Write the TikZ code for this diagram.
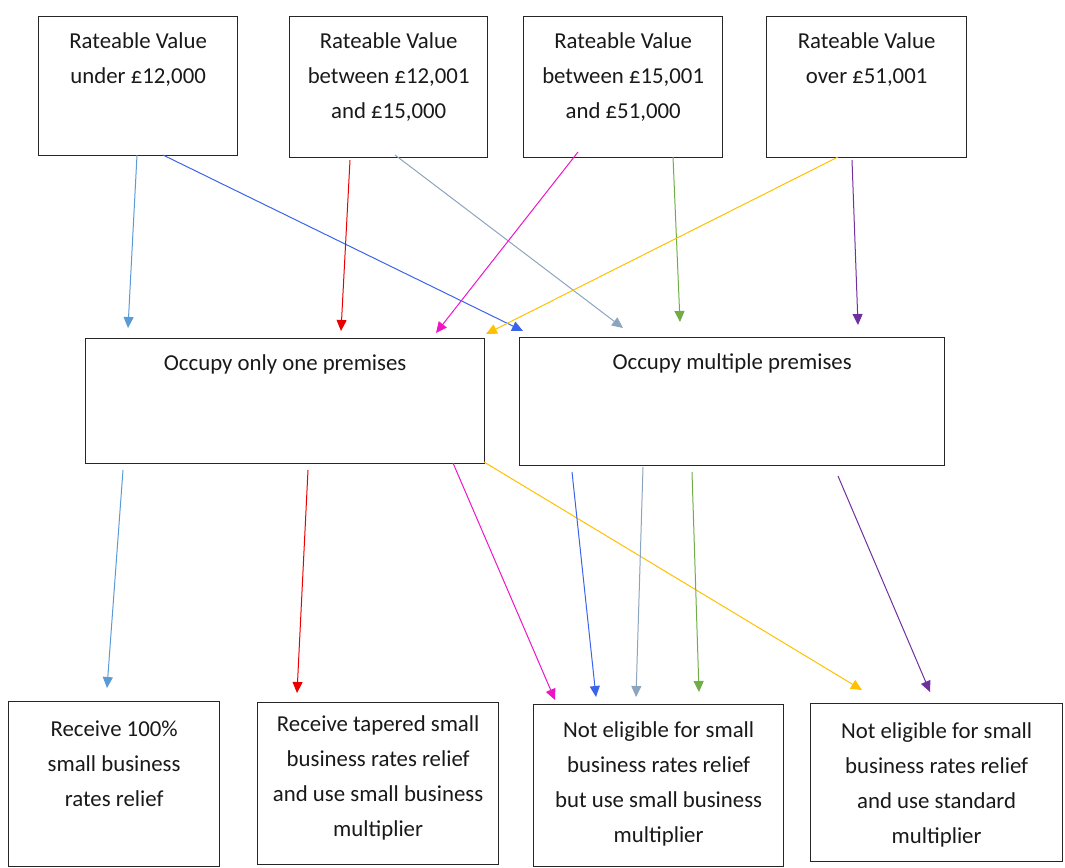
\documentclass[tikz,border=0pt]{standalone}
\usepackage{fontspec}
\setmainfont{Carlito}
\usetikzlibrary{arrows.meta}
\definecolor{clb}{RGB}{91,155,213}
\definecolor{cbl}{RGB}{60,100,235}
\definecolor{cred}{RGB}{235,0,0}
\definecolor{cgr}{RGB}{140,165,190}
\definecolor{cmag}{RGB}{240,20,200}
\definecolor{cgrn}{RGB}{112,173,71}
\definecolor{cgold}{RGB}{255,192,0}
\definecolor{cpur}{RGB}{112,48,160}
\begin{document}
\begin{tikzpicture}[x=1pt,y=-1pt,
  box/.style={draw=black!85, line width=1.3pt, inner sep=0pt, anchor=north west},
  txt/.style={anchor=north, align=center, inner sep=0pt, text=black!90, font=\fontsize{22.8}{35}\selectfont},
  arr/.style={line width=1pt, -{Triangle[width=10pt,length=11pt]}}]
\useasboundingbox (0,0) rectangle (1065,867);
% top row
\node[box, minimum width=199pt, minimum height=139pt] (A) at (38,16) {};
\node[box, minimum width=198pt, minimum height=141pt] (B) at (289,16) {};
\node[box, minimum width=199pt, minimum height=141pt] (C) at (523,16) {};
\node[box, minimum width=200pt, minimum height=141pt] (D) at (766,16) {};
% middle row
\node[box, minimum width=399pt, minimum height=125pt] (E) at (85,338) {};
\node[box, minimum width=425pt, minimum height=128pt] (F) at (519,337) {};
% bottom row
\node[box, minimum width=211pt, minimum height=165pt] (G) at (8,701) {};
\node[box, minimum width=241pt, minimum height=162pt] (H) at (257,702) {};
\node[box, minimum width=250pt, minimum height=162pt] (I) at (533,704) {};
\node[box, minimum width=252pt, minimum height=158pt] (J) at (810,703) {};
% texts
\node[txt] (At) at ([yshift=-16pt]A.north) {Rateable Value\\under £12,000};
\node[txt] (Bt) at ([yshift=-16pt]B.north) {Rateable Value\\between £12,001\\and £15,000};
\node[txt] (Ct) at ([yshift=-16pt]C.north) {Rateable Value\\between £15,001\\and £51,000};
\node[txt] (Dt) at ([yshift=-16pt]D.north) {Rateable Value\\over £51,001};
\node[txt] (Et) at ([yshift=-16pt]E.north) {Occupy only one premises};
\node[txt] (Ft) at ([yshift=-16pt]F.north) {Occupy multiple premises};
\node[txt] (Gt) at ([yshift=-20pt]G.north) {Receive 100\%\\small business\\rates relief};
\node[txt] (Ht) at ([yshift=-13pt]H.north) {Receive tapered small\\business rates relief\\and use small business\\multiplier};
\node[txt] (It) at ([yshift=-17pt]I.north) {Not eligible for small\\business rates relief\\but use small business\\multiplier};
\node[txt] (Jt) at ([yshift=-19pt]J.north) {Not eligible for small\\business rates relief\\and use standard\\multiplier};
% top connectors
\draw[arr, clb]  ([shift={(99,139)}]A.north west)  -- ([shift={(43,-10)}]E.north west);
\draw[arr, cbl]  ([shift={(125,139)}]A.north west) -- ([shift={(4,-6)}]F.north west);
\draw[arr, cred] ([shift={(61,144)}]B.north west)  -- ([shift={(256,-7)}]E.north west);
\draw[arr, cgr]  ([shift={(106,139)}]B.north west) -- ([shift={(104,-9)}]F.north west);
\draw[arr, cmag] ([shift={(55,136)}]C.north west)  -- ([shift={(351,-5)}]E.north west);
\draw[arr, cgrn] ([shift={(150,141)}]C.north west) -- ([shift={(161,-15)}]F.north west);
\draw[arr, cgold]([shift={(72,141)}]D.north west)  -- ([shift={(401,-4)}]E.north west);
\draw[arr, cpur] ([shift={(86,144)}]D.north west)  -- ([shift={(339,-12)}]F.north west);
% bottom connectors
\draw[arr, clb]  ([shift={(38,132)}]E.north west)  -- ([shift={(99,-13)}]G.north west);
\draw[arr, cred] ([shift={(223,132)}]E.north west) -- ([shift={(40,-9)}]H.north west);
\draw[arr, cmag] ([shift={(368,125)}]E.north west) -- ([shift={(22,-4)}]I.north west);
\draw[arr, cgold]([shift={(399,124)}]E.north west) -- ([shift={(52,-13)}]J.north west);
\draw[arr, cbl]  ([shift={(53,135)}]F.north west)  -- ([shift={(63,-7)}]I.north west);
\draw[arr, cgr]  ([shift={(124,130)}]F.north west) -- ([shift={(103,-7)}]I.north west);
\draw[arr, cgrn] ([shift={(173,135)}]F.north west) -- ([shift={(166,-12)}]I.north west);
\draw[arr, cpur] ([shift={(319,139)}]F.north west) -- ([shift={(120,-11)}]J.north west);
\end{tikzpicture}
\end{document}
